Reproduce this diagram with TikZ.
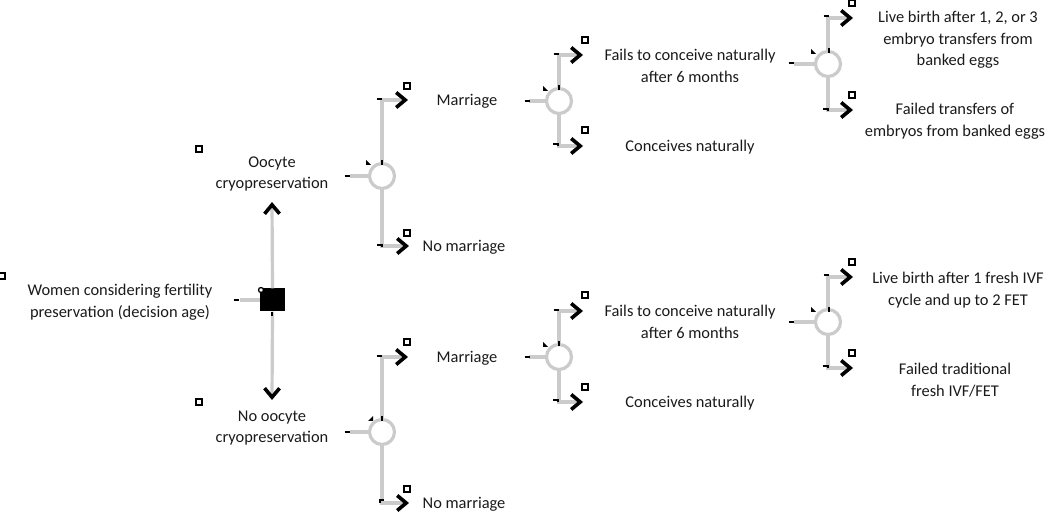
\documentclass[tikz,border=0pt]{standalone}
\usepackage{fontspec}
\setmainfont{Carlito}
\usetikzlibrary{arrows.meta}
\definecolor{linegray}{HTML}{CBCBCB}
\definecolor{txt}{HTML}{1A1A1A}
\begin{document}
\begin{tikzpicture}[x=1pt,y=-1pt,
  branch/.style={draw=linegray, line width=3.2pt},
  tipped/.style={branch, -{Straight Barb[color=black,length=9pt,width=15pt,line width=3.6pt]}},
  chance/.style={circle, draw=linegray, line width=3.2pt, fill=white, minimum size=25pt, inner sep=0pt},
  decision/.style={rectangle, fill=black, minimum width=25pt, minimum height=23pt, inner sep=0pt},
  lbl/.style={align=center, font=\fontsize{16.4}{21.5}\selectfont, text=txt, inner sep=0pt},
  speck/.style={rectangle, draw=black, line width=1.6pt, fill=white, minimum size=6pt, inner sep=0pt},
  tick/.style={draw=black, line width=2.2pt},
]
\useasboundingbox (0,0) rectangle (1050,518);

% ---------- decision ----------
\node[lbl] (root) at (120,302) {Women considering fertility\\preservation (decision age)};
\coordinate (s0) at (240,300);
\node[decision] (D) at (272.5,300) {};
\coordinate (upTip) at (272,202);
\coordinate (downTip) at (272,400);
\draw[branch] (s0) -- (D.west);
\draw[tipped] (D.north) -- (upTip);
\draw[tipped] (D.south) -- (downTip);
\node[lbl] (oc) at (272,174) {Oocyte\\cryopreservation};
\node[lbl] (noc) at (272,428) {No oocyte\\cryopreservation};

% ---------- top half ----------
\node[chance] (C1) at (382,176) {};
\coordinate (s1) at (350,176);
\draw[branch] (s1) -- (C1.west);
\coordinate (t1a) at (408,100);
\coordinate (t1b) at (409,246);
\draw[tipped] (C1.north) |- (t1a);
\draw[tipped] (C1.south) |- (t1b);
\node[lbl] (m1) at (467,101) {Marriage};
\node[lbl] (nm1) at (464,247) {No marriage};

\node[chance] (C2) at (559,101) {};
\coordinate (s2) at (529,101);
\draw[branch] (s2) -- (C2.west);
\coordinate (t2a) at (583,55);
\coordinate (t2b) at (583,146);
\draw[tipped] (C2.north) |- (t2a);
\draw[tipped] (C2.south) |- (t2b);
\node[lbl] (f1) at (690,66) {Fails to conceive naturally\\after 6 months};
\node[lbl] (cn1) at (690,147) {Conceives naturally};

\node[chance] (C3) at (828,64) {};
\coordinate (s3) at (794,64);
\draw[branch] (s3) -- (C3.west);
\coordinate (t3a) at (853,18);
\coordinate (t3b) at (853,110);
\draw[tipped] (C3.north) |- (t3a);
\draw[tipped] (C3.south) |- (t3b);
\node[lbl] (lb1) at (958,40) {Live birth after 1, 2, or 3\\embryo transfers from\\banked eggs};
\node[lbl] (ft1) at (955,121) {Failed transfers of\\embryos from banked eggs};

% ---------- bottom half ----------
\node[chance] (C4) at (382,432) {};
\coordinate (s4) at (350,432);
\draw[branch] (s4) -- (C4.west);
\coordinate (t4a) at (408,357);
\coordinate (t4b) at (409,503);
\draw[tipped] (C4.north) |- (t4a);
\draw[tipped] (C4.south) |- (t4b);
\node[lbl] (m2) at (467,358) {Marriage};
\node[lbl] (nm2) at (464,504) {No marriage};

\node[chance] (C5) at (559,357) {};
\coordinate (s5) at (529,357);
\draw[branch] (s5) -- (C5.west);
\coordinate (t5a) at (583,311);
\coordinate (t5b) at (583,402);
\draw[tipped] (C5.north) |- (t5a);
\draw[tipped] (C5.south) |- (t5b);
\node[lbl] (f2) at (690,322) {Fails to conceive naturally\\after 6 months};
\node[lbl] (cn2) at (690,403) {Conceives naturally};

\node[chance] (C6) at (828,322) {};
\coordinate (s6) at (794,322);
\draw[branch] (s6) -- (C6.west);
\coordinate (t6a) at (853,277);
\coordinate (t6b) at (853,368);
\draw[tipped] (C6.north) |- (t6a);
\draw[tipped] (C6.south) |- (t6b);
\node[lbl] (lb2) at (958,290) {Live birth after 1 fresh IVF\\cycle and up to 2 FET};
\node[lbl] (ft2) at (955,380) {Failed traditional\\fresh IVF/FET};

% ---------- small marks ----------
\foreach \p in {(2,276),(199,149),(407,86),(407,233),(585,40),(585,130),(852,3),(852,95),
                (199,402),(407,342),(407,489),(585,295),(585,387),(852,262),(852,353)}
  \node[speck] at \p {};
\node[circle, draw=black, line width=1.3pt, fill=white, minimum size=5pt, inner sep=0pt] at (261,290) {};
\foreach \x/\y in {236/300,347/176,379/99,527/101,556/54,791/63,826/16,
                   347/432,379/356,527/357,556/310,791/322,826/275}
  \draw[tick] (\x-2.5,\y) -- (\x+2.5,\y);
\foreach \x/\y in {380/246,556/145,826/110,556/401,826/367}
  \draw[tick] (\x-3,\y-1) -- (\x+2,\y-1) -- (\x+2,\y+1);
\draw[tick] (380,503) -- (380,500) -- (384,500);
\foreach \x/\y in {382/163,559/88,829/51,382/419,559/344,829/310}
  \draw[tick] (\x,\y-2.5) -- (\x,\y+2.5);
\foreach \x/\y in {368/163,545/89,813/52,545/345,813/310}
  \fill[black] (\x-2,\y-3) -- (\x+3,\y+2) -- (\x-2,\y+2) -- cycle;
\fill[black] (368,421) -- (373,416) -- (373,421) -- cycle;
\draw[tick] (272,312) -- (272,316);
\end{tikzpicture}
\end{document}
